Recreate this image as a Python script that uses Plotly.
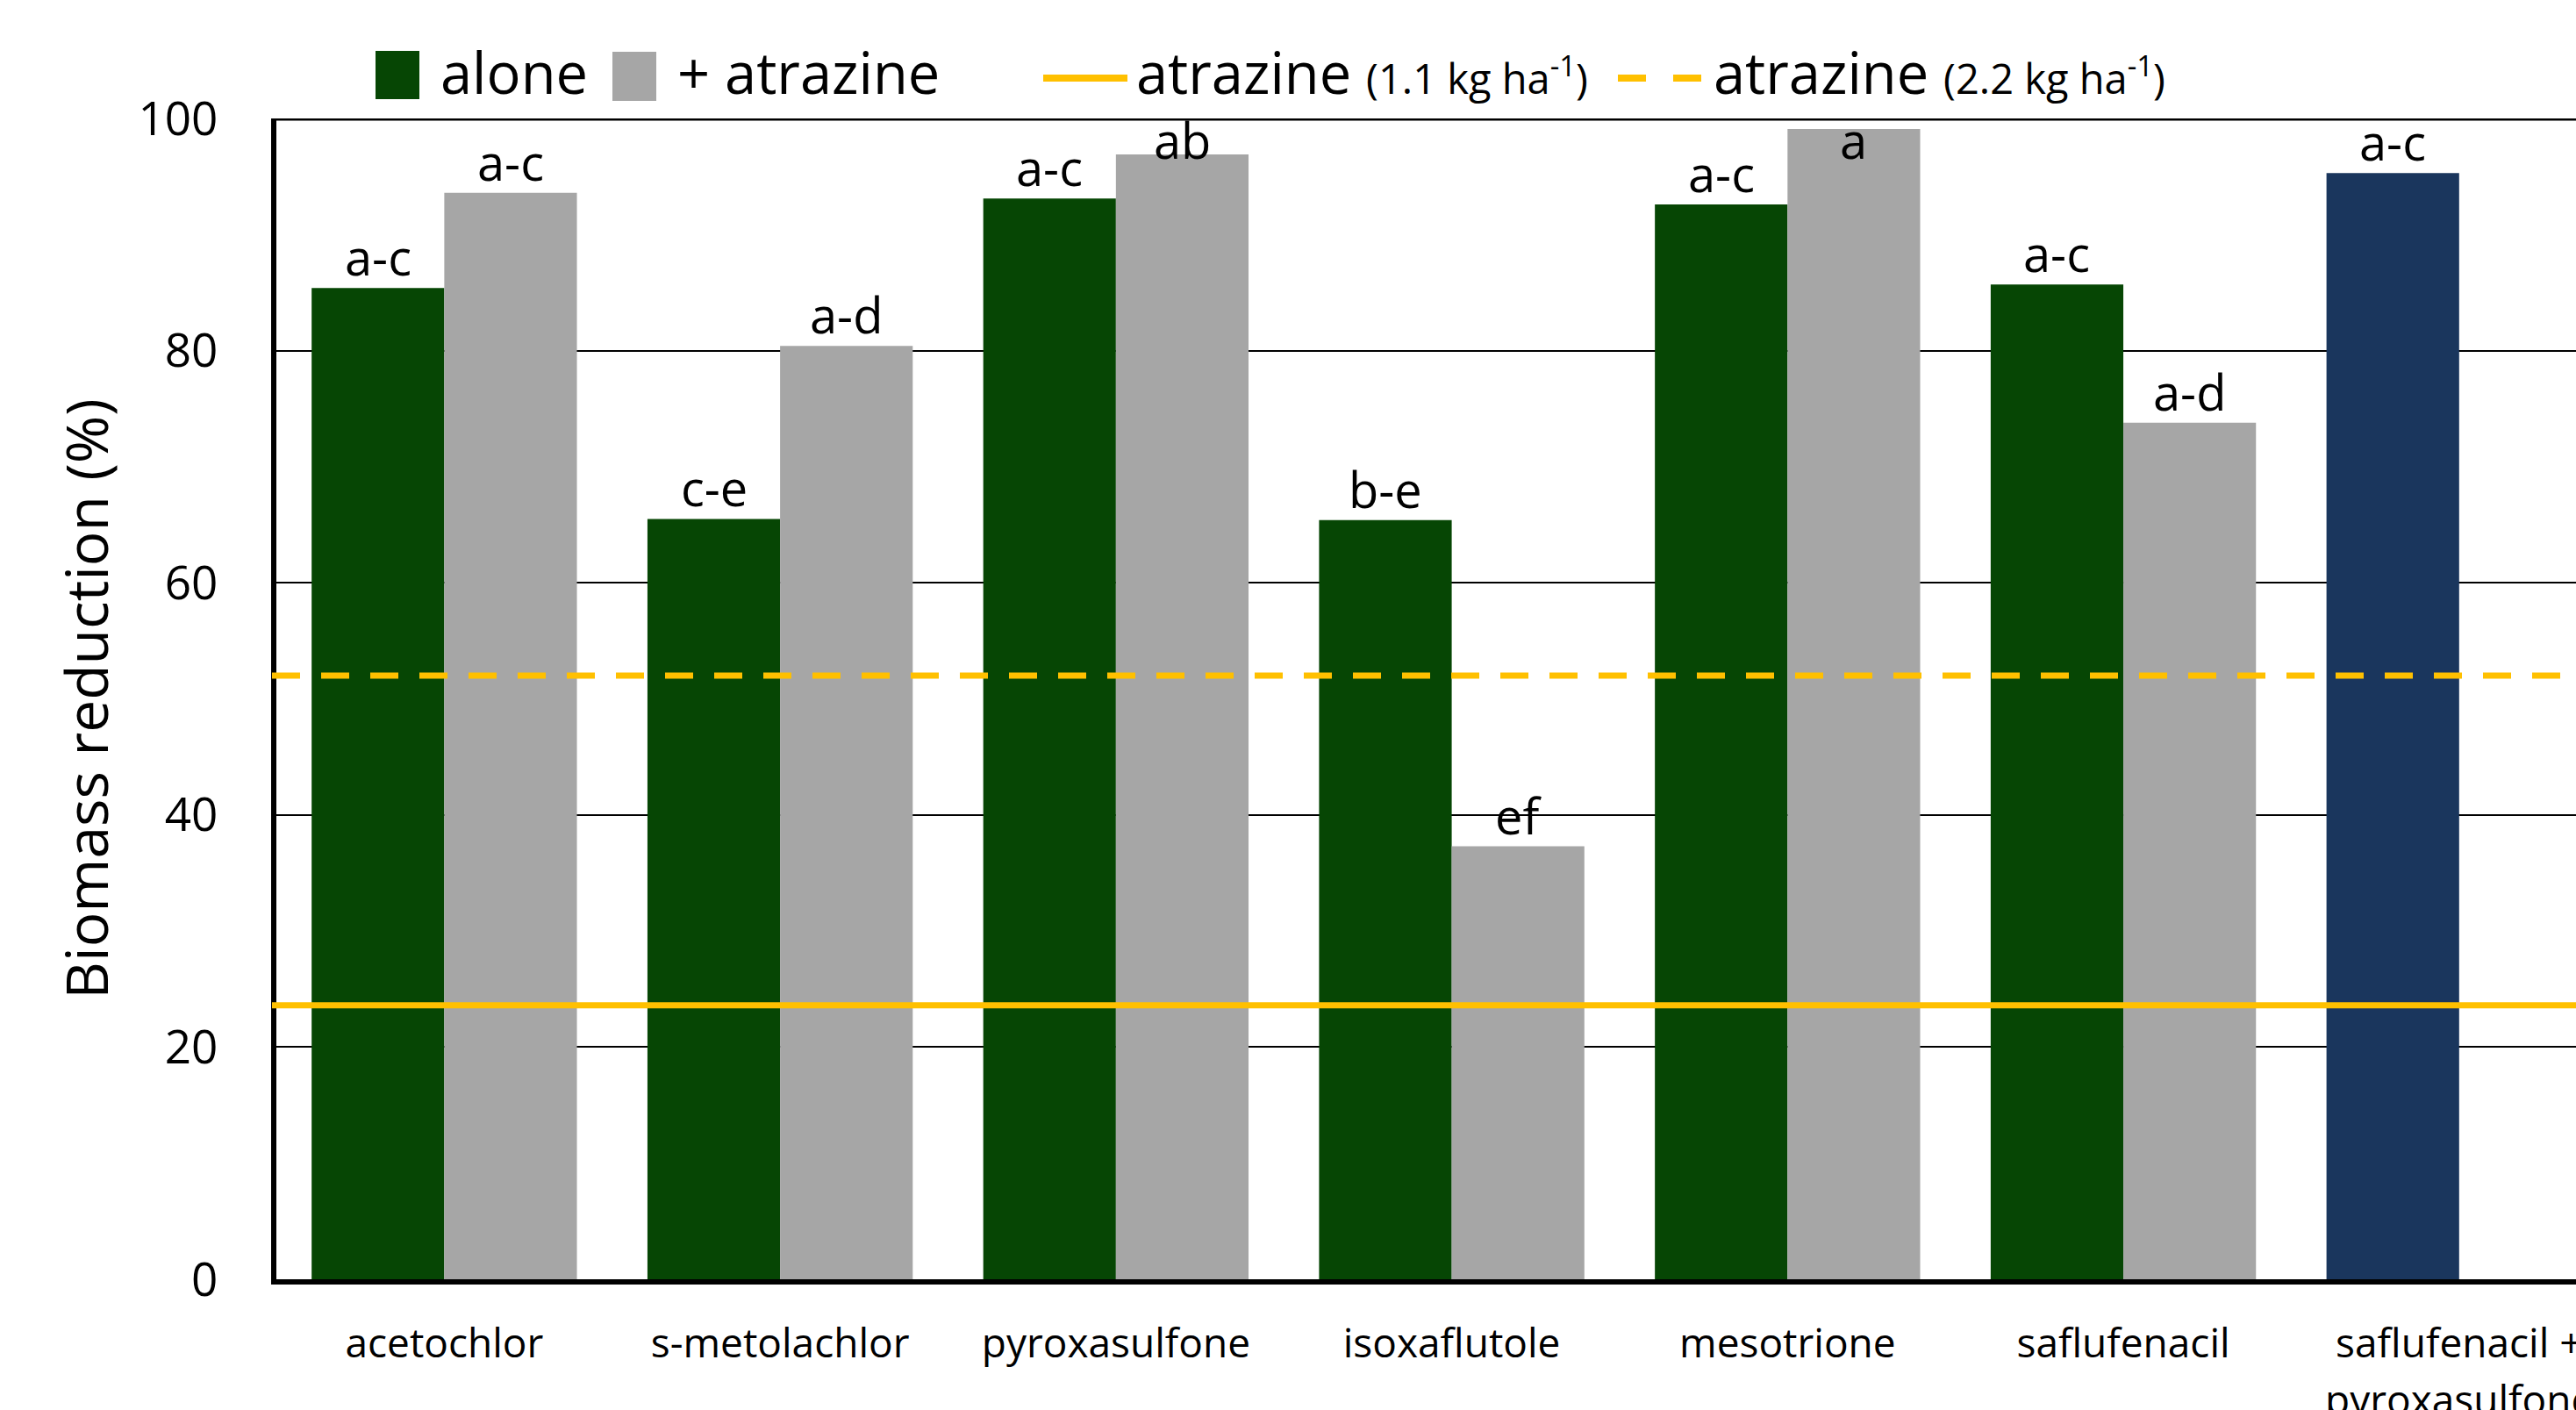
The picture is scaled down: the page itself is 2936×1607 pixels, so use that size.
import plotly.graph_objects as go

# ---------------- data ----------------
categories = ["acetochlor", "s-metolachlor", "pyroxasulfone", "isoxaflutole",
              "mesotrione", "saflufenacil", "saflufenacil + pyroxasulfone"]
tick_labels = ["acetochlor", "s-metolachlor", "pyroxasulfone", "isoxaflutole",
               "mesotrione", "saflufenacil", "saflufenacil +"]
tick_label_second_line = "pyroxasulfone"

alone = [85.4, 65.5, 93.1, 65.4, 92.6, 85.7, 95.3]
with_atrazine = [93.6, 80.4, 96.9, 37.3, 99.1, 73.8, None]

letters_alone = ["a-c", "c-e", "a-c", "b-e", "a-c", "a-c", "a-c"]
letters_atrazine = ["a-c", "a-d", "ab", "ef", "a", "a-d", None]

atrazine_1_1 = 23.6   # atrazine alone, 1.1 kg ha-1
atrazine_2_2 = 52.0   # atrazine alone, 2.2 kg ha-1

y_ticks = [0, 20, 40, 60, 80, 100]

# ---------------- style / layout constants ----------------
W_FIG, H_FIG = 2936, 1607
M_L, M_T, M_B, M_R = 315, 135, 149, 0
PW = W_FIG - M_L - M_R
PH = H_FIG - M_T - M_B
X_MAX = 6.348
BARGAP = 0.21
LABEL_CAP = 95.5

GREEN = "#064604"
GRAY = "#A6A6A6"
NAVY = "#1A365D"
GOLD = "#FFC000"
FONT = "Open Sans"


def px_x(px):
    return (px - M_L) / PW


def px_y(py):
    return (H_FIG - M_B - py) / PH


alone_colors = [GREEN] * (len(categories) - 1) + [NAVY]

fig = go.Figure()
fig.add_trace(go.Bar(x=categories, y=alone, name="alone",
                     marker=dict(color=alone_colors, line=dict(width=0)),
                     showlegend=False))
fig.add_trace(go.Bar(x=categories, y=with_atrazine, name="+ atrazine",
                     marker=dict(color=GRAY, line=dict(width=0)),
                     showlegend=False))

shapes = []
# atrazine reference lines
shapes.append(dict(type="line", xref="paper", yref="y", x0=px_x(310), x1=1,
                   y0=atrazine_1_1, y1=atrazine_1_1,
                   line=dict(color=GOLD, width=7)))
shapes.append(dict(type="line", xref="paper", yref="y", x0=px_x(310), x1=1,
                   y0=atrazine_2_2, y1=atrazine_2_2,
                   line=dict(color=GOLD, width=7, dash="32px,24px")))
# top border
shapes.append(dict(type="line", xref="paper", yref="y", x0=px_x(309), x1=1,
                   y0=100, y1=100, line=dict(color="black", width=5)))

# legend (manual)
shapes.append(dict(type="rect", xref="paper", yref="paper",
                   x0=px_x(428), x1=px_x(478), y0=px_y(113), y1=px_y(58),
                   fillcolor=GREEN, line=dict(width=0)))
shapes.append(dict(type="rect", xref="paper", yref="paper",
                   x0=px_x(698), x1=px_x(748), y0=px_y(115), y1=px_y(59),
                   fillcolor=GRAY, line=dict(width=0)))
shapes.append(dict(type="line", xref="paper", yref="paper",
                   x0=px_x(1189), x1=px_x(1285), y0=px_y(89), y1=px_y(89),
                   line=dict(color=GOLD, width=8)))
shapes.append(dict(type="line", xref="paper", yref="paper",
                   x0=px_x(1844), x1=px_x(1939), y0=px_y(89), y1=px_y(89),
                   line=dict(color=GOLD, width=8, dash="32px,31px")))

annotations = []
leg_font = dict(family=FONT, size=65, color="black")
small = "<span style='font-size:47px'>"
legend_texts = [
    (500, "alone"),
    (770, "+ atrazine"),
    (1293, "atrazine " + small + "(1.1 kg ha<sup>-1</sup>)</span>"),
    (1951, "atrazine " + small + "(2.2 kg ha<sup>-1</sup>)</span>"),
]
for xpx, txt in legend_texts:
    annotations.append(dict(xref="paper", yref="paper", x=px_x(xpx), y=px_y(82),
                            xanchor="left", yanchor="middle", text=txt,
                            showarrow=False, font=leg_font))

# significance letters
half = (1 - BARGAP) / 4
lab_font = dict(family=FONT, size=56, color="black")
for i, (v, lab) in enumerate(zip(alone, letters_alone)):
    if lab:
        annotations.append(dict(x=i - half, y=min(v, LABEL_CAP), xref="x", yref="y",
                                text=lab, showarrow=False, yanchor="bottom",
                                yshift=-4, font=lab_font))
for i, (v, lab) in enumerate(zip(with_atrazine, letters_atrazine)):
    if lab and v is not None:
        annotations.append(dict(x=i + half, y=min(v, LABEL_CAP), xref="x", yref="y",
                                text=lab, showarrow=False, yanchor="bottom",
                                yshift=-4, font=lab_font))

# second line of last category label
annotations.append(dict(x=len(categories) - 1, xref="x", yref="paper", y=px_y(1594),
                        text=tick_label_second_line, showarrow=False,
                        yanchor="middle", font=dict(family=FONT, size=46, color="black")))

fig.update_layout(
    template="none",
    width=W_FIG, height=H_FIG,
    margin=dict(l=M_L, r=M_R, t=M_T, b=M_B, pad=0),
    paper_bgcolor="white", plot_bgcolor="white",
    font=dict(family=FONT, color="black"),
    barmode="group", bargap=BARGAP, bargroupgap=0,
    showlegend=False,
    shapes=shapes, annotations=annotations,
    xaxis=dict(type="category", range=[-0.5, X_MAX], tickvals=categories,
               ticktext=tick_labels, showgrid=False, zeroline=False,
               showline=True, linewidth=6, linecolor="black", ticks="",
               tickfont=dict(family=FONT, size=46, color="black"),
               ticklabelstandoff=28, automargin=False),
    yaxis=dict(range=[0, 100], tickvals=y_ticks, showgrid=True,
               gridcolor="black", gridwidth=1.5, zeroline=False,
               showline=True, linewidth=6, linecolor="black", ticks="",
               tickfont=dict(family=FONT, size=53, color="black"),
               ticklabelstandoff=50, automargin=False,
               title=dict(text="Biomass reduction (%)", standoff=14,
                          font=dict(family=FONT, size=66, color="black"))),
)

fig.write_html("out.html", config={"displayModeBar": False},
               post_script="document.body.style.margin='0';document.body.style.overflow='hidden';")
